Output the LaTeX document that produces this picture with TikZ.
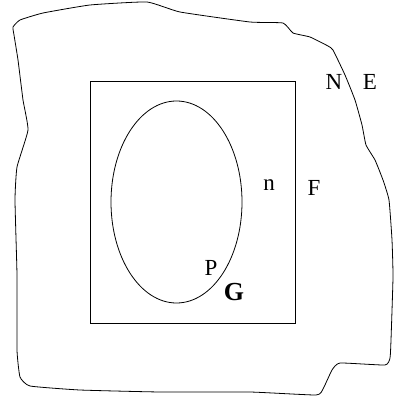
\documentclass[tikz,border=0pt]{standalone}
\usepackage{fontspec}
\setmainfont{Liberation Serif}
\usetikzlibrary{shapes.geometric}
\begin{document}
\begin{tikzpicture}[x=1pt,y=-1pt,line width=0.8pt,
  lbl/.style={inner sep=0pt,font=\fontsize{23}{23}\selectfont}]
\useasboundingbox (0,0) rectangle (394,398);
\draw[line join=round] plot[smooth cycle,tension=0.25] coordinates {
 (13,27) (20,20) (43,13) (90,5) (147,2) (180,12) (250,22) (283,23) (293,33)
 (310,37) (328,46) (333,50) (345,75) (355,100) (362,125) (366,145) (375,160)
 (383,180) (389,200) (392,240) (393,277) (391,340) (390,358) (385,365) (340,363)
 (332,370) (323,389) (316,395) (250,392) (160,392) (80,390) (30,386) (20,377)
 (17,350) (17,275) (15,200) (17,167) (28,130) (23,100) (18,60) (14,35)};
\node[draw,line width=0.8pt,inner sep=0pt,minimum width=205pt,minimum height=242pt] (rect) at (192.5,202) {};
\node[draw,ellipse,line width=0.8pt,inner sep=0pt,minimum width=131pt,minimum height=202pt] (ell) at (176.5,202) {};
\node[lbl] (N) at (334,82) {N};
\node[lbl] (E) at (370,82) {E};
\node[lbl] (n) at (269,185) {n};
\node[lbl] (F) at (314,188) {F};
\node[lbl] (P) at (211,268) {P};
\node[lbl,font=\fontsize{26}{26}\selectfont\bfseries] (G) at (234,292) {G};
\end{tikzpicture}
\end{document}
